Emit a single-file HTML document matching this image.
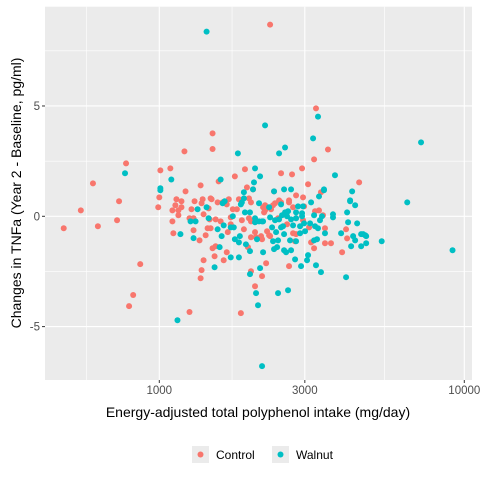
<!DOCTYPE html>
<html><head><meta charset="utf-8"><style>
body{margin:0;background:#fff;}
svg text{font-family:"Liberation Sans",Arial,sans-serif;}
</style></head><body>
<svg id="chart" width="480" height="480" xmlns="http://www.w3.org/2000/svg">
<rect x="0" y="0" width="480" height="480" fill="#fff"/>
<rect x="45" y="6.7" width="427" height="373.3" fill="#ebebeb"/>
<g id="grid"></g>
<g id="pts"></g>
<g id="axes"></g>
<text x="258" y="417" text-anchor="middle" font-size="14" fill="#000">Energy-adjusted total polyphenol intake (mg/day)</text>
<text transform="translate(21,193) rotate(-90)" text-anchor="middle" font-size="14" fill="#000">Changes in TNFa (Year 2 - Baseline, pg/ml)</text>
<g>
<g>
<rect x="192" y="446" width="17" height="17" fill="#ebebeb"/>
<circle cx="200.5" cy="454.5" r="3" fill="#F8766D"/>
<text x="216" y="459" font-size="12" fill="#000">Control</text>
</g>
<g>
<rect x="272" y="446" width="17" height="17" fill="#ebebeb"/>
<circle cx="280.5" cy="454.5" r="3" fill="#00BFC4"/>
<text x="296" y="459" font-size="12" fill="#000">Walnut</text>
</g>
</g>
</svg>
<script>
const xTicks=[1000,3000,10000];
const xTickLabels=["1000","3000","10000"];
const yTicks=[-5,0,5];
const yTickLabels=["-5","0","5"];
const controlX=[2308,1495,1495,1209,778,1008,1087,606,1565,1769,1909,1366,1219,1938,2029,1000,1138,1387,1484,1690,
3264,3573,3217,2938,2507,2724,4521,3074,3389,2378,2808,2960,2470,2663,
486,553,629,727,738,866,821,796,1256,1851,992,1104,1155,1129,1182,1182,1155,1104,1112,1256,1295,1275,1305,1376,1473,1451,1397,1462,1530,1589,1553,1613,1664,1295,1355,1419,1440,1473,1715,1715,1677,1894,1865,1968,1998,2222,2222,2189,1796,1742,1824,1968,1998,2060,1998,2076,2156,2172,2256,1953,2240,1998,2172,2060,1495,1530,1664,1518,1626,1397,1376,1366,
4096,4128,3975,3493,3493,3655,3217,3145,2663,2291,2308,2745,2808,2623,2960,3098,3441,3240,3339,2451,2808,2325,2206,2745,2983,2360,2396,2507,2663,2787];
const controlY=[8.69,3.76,3.05,2.94,2.40,2.08,2.17,1.49,1.58,1.81,2.13,1.40,1.13,1.31,1.22,0.86,0.77,0.77,0.77,0.77,
4.89,3.03,2.58,2.17,1.95,1.90,1.54,1.45,1.09,1.13,0.95,0.86,0.72,0.72,
-0.54,0.27,-0.45,-0.18,0.68,-2.17,-3.57,-4.07,-4.34,-4.39,0.41,0.27,0.27,0.50,0.41,0.68,0.05,-0.23,-0.77,-0.09,-0.09,0.32,0.68,0.59,0.81,0.36,0.09,-0.14,-0.14,-0.23,0.63,0.63,0.54,-0.63,-1.09,-0.86,-0.54,-0.54,-0.05,-0.36,-0.72,-0.59,-0.18,-0.09,-0.23,0.27,0.50,0.41,0.32,0.32,0.77,0.81,0.63,-0.72,-0.95,-0.95,-0.90,-1.04,-0.68,-1.40,-2.13,-2.49,-2.71,-3.17,-1.45,-1.36,-1.63,-1.81,-1.99,-1.99,-2.44,-2.81,
-0.59,-1.00,-1.63,-0.54,-1.22,-1.22,-1.45,-1.18,-2.26,-0.86,-0.90,-0.77,-0.81,-0.36,-0.18,-0.50,0.05,0.23,0.27,-0.09,-0.09,0.32,0.18,0.41,0.45,0.50,0.59,0.63,0.63,-1.13];
const walnutX=[1429,2222,1810,772,1095,1589,2060,2140,1008,2044,2029,1894,1894,
3314,3193,2584,2470,7214,3767,2565,2704,3467,4288,3339,4223,2378,
1147,2172,1173,1266,1315,1335,1429,1451,1638,1613,1295,1553,1626,1715,1755,1742,1601,1769,1824,1837,1909,1983,2060,2123,2189,2060,2123,1851,1865,2091,1923,1983,2189,2140,1983,2076,2107,1577,1715,1824,1518,1008,
6500,9150,5361,4223,4386,4128,4159,4453,3945,4320,4386,4590,4660,4731,4767,4255,4590,4767,4096,3711,3711,3493,3217,3289,3264,3389,3074,3051,2916,2787,2451,2643,2378,2433,2565,2604,2704,2360,2451,2683,2808,2415,2565,2894,3005,2343,2507,2545,2745,2894,2983,3121,3240,3314,3364,3415,3217,2396,2470,2623,2704,2808,2308,2172,2526,2584,2643,2808,2938,2938,2291,2850,2960,2507,3145,3467];
const walnutY=[8.37,4.12,2.85,1.95,1.67,1.67,2.17,1.81,1.27,1.54,1.22,1.09,0.81,
4.52,3.53,3.12,2.85,3.35,1.86,1.22,1.22,1.22,1.13,0.90,0.72,1.13,
-4.71,-6.79,-0.81,-0.23,-0.23,0.32,0.41,-0.09,0.68,0.59,-0.99,-0.59,-0.41,-0.50,-0.50,0.00,-0.90,-1.04,-1.18,-0.90,0.18,0.18,-0.09,-0.23,-0.23,-0.27,0.59,0.54,0.63,-1.04,-1.27,-1.58,-1.63,-2.35,-2.62,-3.48,-4.03,-1.40,-1.86,-1.86,-2.31,1.18,
0.63,-1.54,-1.13,0.68,0.50,0.18,-0.27,-0.32,-0.77,-0.90,-1.09,-0.81,-0.81,-0.86,-0.90,-1.36,-1.36,-1.22,-2.76,0.09,-0.05,-0.77,-1.09,-1.04,-2.22,-2.53,-1.76,-1.99,-2.26,-1.95,-3.48,-3.35,-1.49,-1.40,-1.54,-1.63,-1.54,-1.13,-1.09,-1.09,-1.13,-0.72,-0.81,-0.77,-0.68,-0.50,-0.50,-0.45,-0.41,-0.45,-0.32,-0.32,-0.45,-0.54,-0.18,0.00,0.05,-0.18,-0.14,0.00,-0.14,-0.09,-0.05,-0.23,0.05,0.18,0.23,0.18,0.14,0.00,0.41,0.45,0.45,0.54,0.63,1.18];

const NS="http://www.w3.org/2000/svg";
const PL=45,PR=472,PT=6.7,PB=380;
const lx0=Math.log10(1000)-(159.3-PL)/305, lx1=3+(PR-159.3)/305;
function sx(v){return PL+(Math.log10(v)-lx0)/(lx1-lx0)*(PR-PL);}
const y0=-7.42,y1=9.5;
function sy(v){return PB-(v-y0)/(y1-y0)*(PB-PT);}
function mk(tag,attrs,parent){const e=document.createElementNS(NS,tag);for(const k in attrs)e.setAttribute(k,attrs[k]);parent.appendChild(e);return e;}
const grid=document.getElementById('grid'),axes=document.getElementById('axes'),pts=document.getElementById('pts');
// minor grid
const lt=xTicks.map(v=>Math.log10(v));
const minorX=[lt[0]-(lt[1]-lt[0])/2];
for(let i=0;i<lt.length-1;i++)minorX.push((lt[i]+lt[i+1])/2);
minorX.forEach(l=>{const x=sx(Math.pow(10,l));
const e=mk('line',{x1:x,x2:x,y1:PT,y2:PB,stroke:'#fff','stroke-width':0.6},grid);

});
for(let i=0;i<yTicks.length-1;i++){}
[yTicks[0]-2.5].concat(yTicks.map(v=>v+2.5)).forEach(v=>{const y=sy(v);
const e=mk('line',{x1:PL,x2:PR,y1:y,y2:y,stroke:'#fff','stroke-width':0.6},grid);

});
xTicks.forEach((v,i)=>{const x=sx(v);
const g=mk('line',{x1:x,x2:x,y1:PT,y2:PB,stroke:'#fff','stroke-width':1.1},grid);


const t=mk('line',{x1:x,x2:x,y1:PB,y2:PB+3,stroke:'#333','stroke-width':1},axes);


const l=mk('text',{x:x,y:PB+14,'text-anchor':'middle','font-size':11.5,fill:'#4d4d4d'},axes);l.textContent=xTickLabels[i];

});
yTicks.forEach((v,i)=>{const y=sy(v);
const g=mk('line',{x1:PL,x2:PR,y1:y,y2:y,stroke:'#fff','stroke-width':1.1},grid);


const t=mk('line',{x1:PL-3,x2:PL,y1:y,y2:y,stroke:'#333','stroke-width':1},axes);


const l=mk('text',{x:PL-5,y:y+4,'text-anchor':'end','font-size':11.5,fill:'#4d4d4d'},axes);l.textContent=yTickLabels[i];

});
function series(X,Y,col,name){for(let i=0;i<X.length;i++){
const c=mk('circle',{cx:sx(X[i]),cy:sy(Y[i]),r:3,fill:col},pts);

}}
series(controlX,controlY,'#F8766D','point-control');
series(walnutX,walnutY,'#00BFC4','point-walnut');
</script>
</body></html>
